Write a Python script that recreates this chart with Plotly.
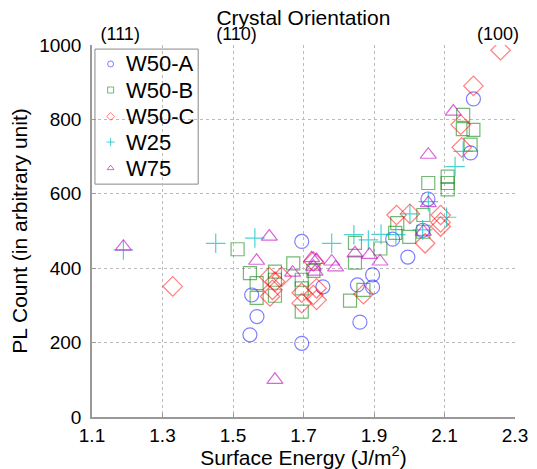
import plotly.graph_objects as go

# ---- data (surface energy J/m^2, PL count) ----
w50a_x = [1.553, 1.568, 1.548, 1.695, 1.695, 1.755, 1.853, 1.896, 1.896, 1.860, 1.953, 1.996, 2.038, 2.053, 2.174, 2.182]
w50a_y = [328, 270, 221, 472, 198, 350, 355, 382, 349, 255, 478, 430, 502, 586, 710, 855]

w50b_x = [1.513, 1.548, 1.567, 1.567, 1.619, 1.619, 1.619, 1.671, 1.695, 1.695, 1.695, 1.728, 1.846, 1.846, 1.832, 1.870,
          1.918, 1.960, 1.966, 2.000, 2.040, 2.040, 2.054, 2.109, 2.109, 2.109, 2.153, 2.152, 2.182, 2.174]
w50b_y = [451, 387, 360, 320, 391, 369, 326, 413, 369, 346, 283, 393, 468, 415, 313, 342,
          453, 495, 521, 484, 543, 498, 629, 646, 629, 612, 812, 774, 772, 732]

w50c_x = [1.329, 1.603, 1.619, 1.605, 1.612, 1.638, 1.695, 1.695, 1.728, 1.728, 1.737, 1.737, 1.870, 1.964, 2.002,
          2.045, 2.089, 2.089, 2.089, 2.146, 2.149, 2.182, 2.259]
w50c_y = [351, 376, 364, 324, 342, 377, 334, 306, 418, 328, 315, 346, 330, 543, 546,
          467, 543, 523, 512, 786, 725, 890, 986]

w25_x = [1.189, 1.451, 1.562, 1.780, 1.843, 1.884, 1.920, 1.962, 2.002, 2.038, 2.054, 2.106, 2.130, 2.153]
w25_y = [449, 467, 481, 467, 490, 476, 491, 490, 546, 503, 579, 537, 673, 714]

w75_x = [1.189, 1.567, 1.603, 1.619, 1.669, 1.723, 1.737, 1.728, 1.733, 1.780, 1.791, 1.846, 1.887, 1.917, 2.040,
         2.054, 2.054, 2.125]
w75_y = [458, 420, 485, 100, 388, 427, 422, 404, 391, 418, 402, 440, 436, 418, 498,
         575, 705, 821]

series_names = ["W50-A", "W50-B", "W50-C", "W25", "W75"]
series_x = [w50a_x, w50b_x, w50c_x, w25_x, w75_x]
series_y = [w50a_y, w50b_y, w50c_y, w25_y, w75_y]

orient_vals = [1.18, 1.51, 2.252]
orient_text = ["(111)", "(110)", "(100)"]

x_ticks = [1.1, 1.3, 1.5, 1.7, 1.9, 2.1, 2.3]
y_ticks = [0, 200, 400, 600, 800, 1000]

symbols = ["circle-open", "square-open", "diamond-open", "cross-thin-open", "triangle-up-open"]
colors = ["rgba(0,0,255,0.5)", "rgba(0,128,0,0.55)", "rgba(255,0,0,0.5)", "rgba(0,191,191,0.7)", "rgba(191,0,191,0.6)"]
sizes = [14, 13, 15, 14, 14]

FONT = "Liberation Sans, Arial, sans-serif"

# manual legend layout (paper fractions of the plot area)
LEG_BOX = dict(x0=0.007, x1=0.251, y0=0.626, y1=0.989)
LEG_SYM_X = 0.044
LEG_TXT_X = 0.076
LEG_ROW_Y = [0.949, 0.879, 0.808, 0.739, 0.669]

fig = go.Figure()
for name, xs, ys, sym, col, sz in zip(series_names, series_x, series_y, symbols, colors, sizes):
    fig.add_trace(go.Scatter(
        x=xs, y=ys, mode="markers", name=name, showlegend=False,
        marker=dict(symbol=sym, size=sz, color=col, line=dict(color=col, width=1.2)),
    ))

# top axis with orientation labels
fig.add_trace(go.Scatter(x=[1.1], y=[0], xaxis="x2", mode="markers",
                         marker=dict(opacity=0), showlegend=False, hoverinfo="skip"))

# legend box
fig.add_shape(type="rect", xref="paper", yref="paper", layer="between",
              fillcolor="white", line=dict(color="#888888", width=1), **LEG_BOX)

# legend symbols on a hidden overlay axis spanning the plot area
for name, sym, col, ry in zip(series_names, symbols, colors, LEG_ROW_Y):
    fig.add_trace(go.Scatter(
        x=[LEG_SYM_X], y=[ry], xaxis="x3", yaxis="y3", mode="markers", showlegend=False,
        hoverinfo="skip",
        marker=dict(symbol=sym, size=6, color=col, line=dict(color=col, width=1)),
    ))
    fig.add_annotation(x=LEG_TXT_X, y=ry, xref="paper", yref="paper", text=name,
                       showarrow=False, xanchor="left", yanchor="middle",
                       font=dict(size=22, family=FONT, color="black"))

fig.update_layout(
    width=537, height=469,
    margin=dict(l=92, r=22, t=45, b=52, autoexpand=False),
    paper_bgcolor="white", plot_bgcolor="white",
    font=dict(family=FONT, size=19, color="black"),
    showlegend=False,
    title=dict(text="Crystal Orientation", x=0.565, xanchor="center", y=0.963, yanchor="middle",
               font=dict(size=21), automargin=False),
    xaxis=dict(
        range=[1.1, 2.3], tickvals=x_ticks, ticktext=[f"{v:.1f}" for v in x_ticks],
        showgrid=True, gridcolor="#bbbbbb", griddash="dot", gridwidth=1,
        showline=True, linecolor="#999999", linewidth=1.5, mirror=False,
        ticks="inside", ticklen=4, tickcolor="#999999", zeroline=False, automargin=False,
        title=dict(text="Surface Energy (J/m<sup>2</sup>)", standoff=8, font=dict(size=21)),
        tickfont=dict(size=19),
    ),
    xaxis2=dict(
        overlaying="x", side="top", range=[1.1, 2.3], automargin=False,
        tickvals=orient_vals, ticktext=orient_text, showgrid=False, showline=False,
        ticks="", zeroline=False, tickfont=dict(size=18),
    ),
    xaxis3=dict(overlaying="x", range=[0, 1], visible=False, automargin=False),
    yaxis3=dict(overlaying="y", range=[0, 1], visible=False, automargin=False),
    yaxis=dict(
        range=[0, 1000], tickvals=y_ticks,
        showgrid=True, gridcolor="#bbbbbb", griddash="dot", gridwidth=1,
        showline=True, linecolor="#999999", linewidth=1.5, mirror=False,
        ticks="inside", ticklen=4, tickcolor="#999999", zeroline=False, automargin=False,
        ticklabelstandoff=5,
        title=dict(text="PL Count (in arbitrary unit)", standoff=6, font=dict(size=21)),
        tickfont=dict(size=19),
    ),
)

fig.write_html("out.html")
